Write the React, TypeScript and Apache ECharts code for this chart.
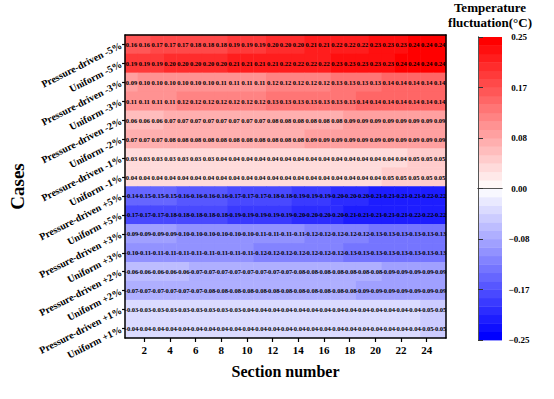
import React, { useEffect, useRef } from 'react';
import * as echarts from 'echarts';

const FONT = '"Liberation Serif", "Times New Roman", serif';

const sections = ['1', '2', '3', '4', '5', '6', '7', '8', '9', '10', '11', '12', '13', '14', '15', '16', '17', '18', '19', '20', '21', '22', '23', '24', '25'];

const cases = [
  'Pressure-driven -5%', 'Uniform -5%',
  'Pressure-driven -3%', 'Uniform -3%',
  'Pressure-driven -2%', 'Uniform -2%',
  'Pressure-driven -1%', 'Uniform -1%',
  'Pressure-driven +5%', 'Uniform +5%',
  'Pressure-driven +3%', 'Uniform +3%',
  'Pressure-driven +2%', 'Uniform +2%',
  'Pressure-driven +1%', 'Uniform +1%',
];

const pdMinus5 = [0.16, 0.16, 0.17, 0.17, 0.17, 0.18, 0.18, 0.18, 0.19, 0.19, 0.19, 0.20, 0.20, 0.20, 0.21, 0.21, 0.22, 0.22, 0.22, 0.23, 0.23, 0.23, 0.24, 0.24, 0.24];
const unMinus5 = [0.19, 0.19, 0.19, 0.20, 0.20, 0.20, 0.20, 0.20, 0.21, 0.21, 0.21, 0.21, 0.22, 0.22, 0.22, 0.22, 0.23, 0.23, 0.23, 0.23, 0.23, 0.24, 0.24, 0.24, 0.24];
const pdMinus3 = [0.09, 0.10, 0.10, 0.10, 0.10, 0.10, 0.10, 0.11, 0.11, 0.11, 0.11, 0.12, 0.12, 0.12, 0.12, 0.12, 0.13, 0.13, 0.13, 0.13, 0.14, 0.14, 0.14, 0.14, 0.14];
const unMinus3 = [0.11, 0.11, 0.11, 0.11, 0.12, 0.12, 0.12, 0.12, 0.12, 0.12, 0.12, 0.13, 0.13, 0.13, 0.13, 0.13, 0.13, 0.13, 0.14, 0.14, 0.14, 0.14, 0.14, 0.14, 0.14];
const pdMinus2 = [0.06, 0.06, 0.06, 0.07, 0.07, 0.07, 0.07, 0.07, 0.07, 0.07, 0.07, 0.08, 0.08, 0.08, 0.08, 0.08, 0.08, 0.09, 0.09, 0.09, 0.09, 0.09, 0.09, 0.09, 0.09];
const unMinus2 = [0.07, 0.07, 0.07, 0.08, 0.08, 0.08, 0.08, 0.08, 0.08, 0.08, 0.08, 0.08, 0.08, 0.08, 0.09, 0.09, 0.09, 0.09, 0.09, 0.09, 0.09, 0.09, 0.09, 0.09, 0.09];
const pdMinus1 = [0.03, 0.03, 0.03, 0.03, 0.03, 0.03, 0.03, 0.04, 0.04, 0.04, 0.04, 0.04, 0.04, 0.04, 0.04, 0.04, 0.04, 0.04, 0.04, 0.04, 0.04, 0.04, 0.05, 0.05, 0.05];
const unMinus1 = [0.04, 0.04, 0.04, 0.04, 0.04, 0.04, 0.04, 0.04, 0.04, 0.04, 0.04, 0.04, 0.04, 0.04, 0.04, 0.04, 0.04, 0.04, 0.04, 0.04, 0.05, 0.05, 0.05, 0.05, 0.05];
const pdPlus5 = [-0.14, -0.15, -0.15, -0.15, -0.16, -0.16, -0.16, -0.16, -0.17, -0.17, -0.17, -0.18, -0.18, -0.19, -0.19, -0.19, -0.20, -0.20, -0.20, -0.21, -0.21, -0.21, -0.21, -0.22, -0.22];
const unPlus5 = [-0.17, -0.17, -0.17, -0.18, -0.18, -0.18, -0.18, -0.18, -0.19, -0.19, -0.19, -0.19, -0.19, -0.20, -0.20, -0.20, -0.20, -0.21, -0.21, -0.21, -0.21, -0.21, -0.22, -0.22, -0.22];
const pdPlus3 = [-0.09, -0.09, -0.09, -0.09, -0.10, -0.10, -0.10, -0.10, -0.10, -0.10, -0.11, -0.11, -0.11, -0.11, -0.12, -0.12, -0.12, -0.12, -0.12, -0.13, -0.13, -0.13, -0.13, -0.13, -0.13];
const unPlus3 = [-0.10, -0.11, -0.11, -0.11, -0.11, -0.11, -0.11, -0.11, -0.11, -0.11, -0.12, -0.12, -0.12, -0.12, -0.12, -0.12, -0.12, -0.13, -0.13, -0.13, -0.13, -0.13, -0.13, -0.13, -0.13];
const pdPlus2 = [-0.06, -0.06, -0.06, -0.06, -0.06, -0.07, -0.07, -0.07, -0.07, -0.07, -0.07, -0.07, -0.07, -0.08, -0.08, -0.08, -0.08, -0.08, -0.08, -0.08, -0.09, -0.09, -0.09, -0.09, -0.09];
const unPlus2 = [-0.07, -0.07, -0.07, -0.07, -0.07, -0.07, -0.08, -0.08, -0.08, -0.08, -0.08, -0.08, -0.08, -0.08, -0.08, -0.08, -0.08, -0.08, -0.09, -0.09, -0.09, -0.09, -0.09, -0.09, -0.09];
const pdPlus1 = [-0.03, -0.03, -0.03, -0.03, -0.03, -0.03, -0.03, -0.03, -0.03, -0.04, -0.04, -0.04, -0.04, -0.04, -0.04, -0.04, -0.04, -0.04, -0.04, -0.04, -0.04, -0.04, -0.04, -0.05, -0.05];
const unPlus1 = [-0.04, -0.04, -0.04, -0.04, -0.04, -0.04, -0.04, -0.04, -0.04, -0.04, -0.04, -0.04, -0.04, -0.04, -0.04, -0.04, -0.04, -0.04, -0.04, -0.04, -0.04, -0.04, -0.04, -0.05, -0.05];

const rows = [
  pdMinus5, unMinus5, pdMinus3, unMinus3, pdMinus2, unMinus2, pdMinus1, unMinus1,
  pdPlus5, unPlus5, pdPlus3, unPlus3, pdPlus2, unPlus2, pdPlus1, unPlus1,
];

const colorbarTicks = ['0.25', '0.17', '0.08', '0.00', '\u22120.08', '\u22120.17', '\u22120.25'];

const VMIN = -0.25;
const VMAX = 0.25;
const LEVELS = 36;

function palette(t: number): string {
  let r: number, g: number, b: number;
  if (t < 0.5) {
    const s = t / 0.5;
    r = 255 * s; g = 255 * s; b = 255;
  } else {
    const s = (1 - t) / 0.5;
    r = 255; g = 255 * s; b = 255 * s;
  }
  return `rgb(${Math.round(r)},${Math.round(g)},${Math.round(b)})`;
}

export default function App() {
  const ref = useRef<HTMLDivElement>(null);
  useEffect(() => {
    if (!ref.current) return;
    const chart = echarts.init(ref.current, null, { renderer: 'svg' });

    const step = (VMAX - VMIN) / LEVELS;
    const bands: number[][] = [];
    const pieces: any[] = [];
    for (let k = 0; k < LEVELS; k++) {
      const lo = VMIN + k * step;
      const hi = lo + step;
      bands.push([lo, hi, k]);
      const piece: any = { gte: lo, color: palette(k / (LEVELS - 1)) };
      if (k === LEVELS - 1) piece.lte = hi; else piece.lt = hi;
      pieces.push(piece);
    }

    const data: number[][] = [];
    rows.forEach((row, r) => {
      row.forEach((v, c) => data.push([c, r, v]));
    });

    const evenOnly = (idx: number) => (idx + 1) % 2 === 0;

    chart.setOption({
      animation: false,
      textStyle: { fontFamily: FONT },
      grid: [
        { left: 115, top: 35, width: 331, height: 303 },
        { left: 478, top: 37, width: 24, height: 303 },
      ],
      graphic: [
        {
          type: 'text', x: 490, y: 7,
          style: { text: 'Temperature', align: 'center', verticalAlign: 'middle', fontFamily: FONT, fontWeight: 'bold', fontSize: 13, fill: '#000' },
        },
        {
          type: 'text', x: 490, y: 22,
          style: { text: 'fluctuation(°C)', align: 'center', verticalAlign: 'middle', fontFamily: FONT, fontWeight: 'bold', fontSize: 13, fill: '#000' },
        },
      ],
      xAxis: [
        {
          type: 'category', gridIndex: 0, data: sections, position: 'bottom', z: 10,
          name: 'Section number', nameLocation: 'middle', nameGap: 25,
          nameTextStyle: { fontFamily: FONT, fontWeight: 'bold', fontSize: 16, color: '#000' },
          axisLine: { show: true, lineStyle: { color: '#000', width: 1.5 } },
          axisTick: { show: true, alignWithLabel: true, interval: evenOnly, length: 4, lineStyle: { color: '#000', width: 1.2 } },
          axisLabel: { interval: evenOnly, margin: 6, fontFamily: FONT, fontWeight: 'bold', fontSize: 11, color: '#000' },
          splitLine: { show: false },
        },
        {
          type: 'category', gridIndex: 0, data: sections, position: 'top', z: 10,
          axisLine: { show: true, lineStyle: { color: '#000', width: 1.5 } },
          axisTick: { show: false }, axisLabel: { show: false }, splitLine: { show: false },
        },
        {
          type: 'value', gridIndex: 1, min: 0, max: 1, position: 'bottom', z: 10,
          axisLine: { show: true, lineStyle: { color: '#555', width: 1 } },
          axisTick: { show: false }, axisLabel: { show: false }, splitLine: { show: false },
        },
        {
          type: 'value', gridIndex: 1, min: 0, max: 1, position: 'top', z: 10,
          axisLine: { show: true, lineStyle: { color: '#555', width: 1 } },
          axisTick: { show: false }, axisLabel: { show: false }, splitLine: { show: false },
        },
      ],
      yAxis: [
        {
          type: 'category', gridIndex: 0, data: cases, inverse: true, position: 'left', z: 10,
          name: 'Cases', nameLocation: 'middle', nameGap: 84,
          nameTextStyle: { fontFamily: FONT, fontWeight: 'bold', fontSize: 19, color: '#000' },
          axisLine: { show: true, lineStyle: { color: '#000', width: 1.5 } },
          axisTick: { show: true, alignWithLabel: true, length: 3, lineStyle: { color: '#000', width: 1.2 } },
          axisLabel: { interval: 0, rotate: 27, margin: 4, fontFamily: FONT, fontWeight: 'bold', fontSize: 10, color: '#000' },
          splitLine: { show: false },
        },
        {
          type: 'category', gridIndex: 0, data: cases, inverse: true, position: 'right', z: 10,
          axisLine: { show: true, lineStyle: { color: '#000', width: 1.5 } },
          axisTick: { show: false }, axisLabel: { show: false }, splitLine: { show: false },
        },
        {
          type: 'value', gridIndex: 1, min: VMIN, max: VMAX, position: 'left', z: 10,
          axisLine: { show: true, lineStyle: { color: '#555', width: 1 } },
          axisTick: { show: false }, axisLabel: { show: false }, splitLine: { show: false },
        },
        {
          type: 'value', gridIndex: 1, min: VMIN, max: VMAX, interval: (VMAX - VMIN) / 6, position: 'right', z: 10,
          axisLine: { show: true, lineStyle: { color: '#555', width: 1 } },
          axisTick: { show: true, length: 5, lineStyle: { color: '#333', width: 1 } },
          axisLabel: {
            margin: 17, align: 'center', fontFamily: FONT, fontWeight: 'bold', fontSize: 9, color: '#000',
            formatter: (v: number) => colorbarTicks[Math.round((VMAX - v) / ((VMAX - VMIN) / 6))],
          },
          splitLine: { show: false },
        },
      ],
      visualMap: {
        type: 'piecewise', show: false, seriesIndex: 0, dimension: 2, pieces,
      },
      series: [
        {
          type: 'heatmap', xAxisIndex: 0, yAxisIndex: 0, data,
          itemStyle: { borderWidth: 0 },
          label: {
            show: true,
            formatter: (p: any) => (p.value[2] as number).toFixed(2),
            fontFamily: FONT, fontWeight: 'bold', fontSize: 6.5, color: '#000',
          },
          emphasis: { disabled: true },
        },
        {
          type: 'custom', xAxisIndex: 2, yAxisIndex: 2, data: bands, clip: false,
          renderItem: (_params: any, api: any) => {
            const lo = api.value(0);
            const hi = api.value(1);
            const k = api.value(2);
            const a = api.coord([0, hi]);
            const b = api.coord([1, lo]);
            return {
              type: 'rect',
              shape: { x: a[0], y: a[1], width: b[0] - a[0], height: b[1] - a[1] + 0.4 },
              style: { fill: palette(k / (LEVELS - 1)) },
            };
          },
        },
      ],
    });
    return () => chart.dispose();
  }, []);
  return <div ref={ref} style={{ width: 554, height: 399, position: 'absolute', left: 0, top: 0 }} />;
}
